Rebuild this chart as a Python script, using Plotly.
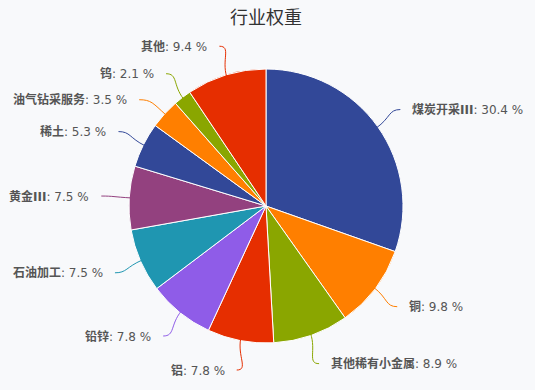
import math
import plotly.graph_objects as go

title = "行业权重"
labels = ["煤炭开采III", "铜", "其他稀有小金属", "铝", "铅锌", "石油加工", "黄金III", "稀土", "油气钻采服务", "钨", "其他"]
values = [30.4, 9.8, 8.9, 7.8, 7.8, 7.5, 7.5, 5.3, 3.5, 2.1, 9.4]
colors = ["#324898", "#ff7f00", "#8aa600", "#e62e00", "#8f5ce8", "#1f96b1",
          "#93417f", "#324898", "#ff7f00", "#8aa600", "#e62e00"]

W, H = 535, 390
CX, CY, R = 266, 206, 137
DIST = 30
MIN_GAP = 26

def px(x):
    return x / W

def py(y):
    return 1 - y / H

fig = go.Figure(go.Pie(
    labels=labels, values=values, sort=False, direction="clockwise", rotation=0,
    marker=dict(colors=colors, line=dict(color="#ffffff", width=1)),
    textinfo="none", hoverinfo="label+percent", showlegend=False,
    domain=dict(x=[px(CX - R), px(CX + R)], y=[py(CY + R), py(CY - R)]),
))

total = sum(values)
cum = 0
items = []
for lab, v, c in zip(labels, values, colors):
    mid = (cum + v / 2) / total * 2 * math.pi
    cum += v
    s, co = math.sin(mid), math.cos(mid)
    RL = R + DIST
    items.append(dict(lab=lab, v=v, c=c, s=s, co=co,
                      x=CX + s * RL, y=CY - co * RL, side=1 if s >= 0 else -1))

for side in (1, -1):
    grp = sorted([it for it in items if it["side"] == side], key=lambda d: d["y"])
    prev = None
    for it in grp:
        if prev is not None and it["y"] - prev < MIN_GAP:
            it["y"] = prev + MIN_GAP
            dy = it["y"] - CY
            RL = R + DIST
            it["x"] = CX + side * math.sqrt(max(RL * RL - dy * dy, 0))
        prev = it["y"]

shapes = []
annotations = []
for it in items:
    ex, ey = CX + it["s"] * (R - 2), CY - it["co"] * (R - 2)
    k1x, k1y = CX + it["s"] * (R + 16), CY - it["co"] * (R + 16)
    tx, ty = it["x"] - it["side"] * 2, it["y"]
    k2x, k2y = tx - it["side"] * 12, ty
    path = (f"M {px(ex)},{py(ey)} C {px(k1x)},{py(k1y)} "
            f"{px(k2x)},{py(k2y)} {px(tx)},{py(ty)}")
    shapes.append(dict(type="path", xref="paper", yref="paper", path=path,
                       line=dict(color=it["c"], width=1)))
    annotations.append(dict(
        x=px(it["x"] + it["side"] * 8), y=py(it["y"]), xref="paper", yref="paper",
        xanchor="left" if it["side"] > 0 else "right", yanchor="middle",
        text=f"<b>{it['lab']}</b>: {it['v']:.1f} %", showarrow=False,
        font=dict(size=12, color="#555555",
                  family="Lucida Grande, DejaVu Sans, Noto Sans CJK SC, sans-serif"),
    ))

fig.update_layout(
    width=W, height=H,
    margin=dict(l=0, r=0, t=0, b=0),
    paper_bgcolor="#f8f9fb", plot_bgcolor="#f8f9fb",
    title=dict(text=title, x=px(266), xanchor="center", y=py(18), yanchor="middle",
               font=dict(size=18, color="#333333", family="Noto Sans CJK SC, sans-serif")),
    shapes=shapes, annotations=annotations,
)

fig.write_html("out.html")
